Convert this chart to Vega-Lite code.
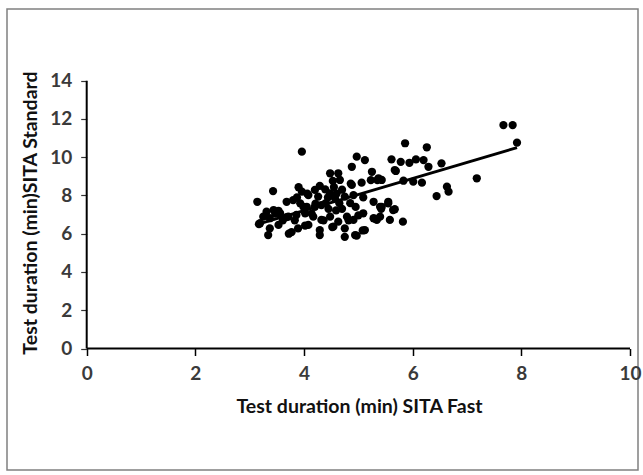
{
  "$schema": "https://vega.github.io/schema/vega-lite/v6.json",
  "autosize": "none",
  "padding": {"left": 7, "top": 9, "right": 5, "bottom": 5},
  "width": 631,
  "height": 461,
  "background": "white",
  "config": {"view": {"stroke": "#808080", "strokeWidth": 1.5}},
  "encoding": {
    "x": {"field": "fast", "type": "quantitative",
      "scale": {"domain": [-1.467, 10.147], "nice": false, "zero": false},
      "axis": {"title": "Test duration (min) SITA Fast", "values": [0, 2, 4, 6, 8, 10], "offset": -121.5,
        "domain": false, "grid": false, "tickSize": 7, "tickColor": "#000", "tickWidth": 1.5,
        "labelFont": "Lato", "labelFontSize": 19, "labelFontWeight": "bold", "labelColor": "#3a3a3a", "labelPadding": 9,
        "labelFlush": false, "labelOverlap": false,
        "titleFont": "Lato", "titleFontSize": 19.5, "titleFontWeight": "bold", "titleColor": "#111",
        "titleX": 352, "titleY": 58, "titleBaseline": "middle", "titleAlign": "center"}},
    "y": {"field": "std", "type": "quantitative",
      "scale": {"domain": [-6.351, 17.748], "nice": false, "zero": false},
      "axis": {"title": "Test duration (min)SITA Standard", "values": [0, 2, 4, 6, 8, 10, 12, 14], "offset": -79.7,
        "domain": false, "grid": false, "tickSize": 6, "tickColor": "#333", "tickWidth": 1.2,
        "labelFont": "Lato", "labelFontSize": 19, "labelFontWeight": "bold", "labelColor": "#3a3a3a", "labelPadding": 9,
        "labelFlush": false, "labelOverlap": false,
        "titleFont": "Lato", "titleFontSize": 19.5, "titleFontWeight": "bold", "titleColor": "#111",
        "titleX": -56, "titleY": 203.5, "titleAngle": -90, "titleBaseline": "middle", "titleAlign": "center"}}
  },
  "layer": [
    {
      "data": {"values": [
        {"fast": 0, "fast2": 10, "std": 0, "std2": 0},
        {"fast": 0, "fast2": 0, "std": 0, "std2": 14}
      ]},
      "mark": {"type": "rule", "color": "#000", "strokeWidth": 2},
      "encoding": {"x2": {"field": "fast2"}, "y2": {"field": "std2"}}
    },
    {
      "data": {"values": [
        {"fast": 3.14, "std": 7.67}, {"fast": 3.17, "std": 6.50}, {"fast": 3.19, "std": 6.55}, {"fast": 3.25, "std": 6.89},
        {"fast": 3.31, "std": 7.15}, {"fast": 3.34, "std": 5.93}, {"fast": 3.37, "std": 6.28}, {"fast": 3.37, "std": 6.81},
        {"fast": 3.43, "std": 8.23}, {"fast": 3.44, "std": 7.24}, {"fast": 3.47, "std": 7.05}, {"fast": 3.53, "std": 7.20},
        {"fast": 3.53, "std": 6.46}, {"fast": 3.56, "std": 7.07}, {"fast": 3.61, "std": 6.70}, {"fast": 3.68, "std": 7.67},
        {"fast": 3.68, "std": 6.87}, {"fast": 3.71, "std": 6.89}, {"fast": 3.72, "std": 6.00}, {"fast": 3.77, "std": 6.08},
        {"fast": 3.80, "std": 7.76}, {"fast": 3.83, "std": 6.70}, {"fast": 3.86, "std": 6.98}, {"fast": 3.87, "std": 7.90},
        {"fast": 3.89, "std": 6.28}, {"fast": 3.90, "std": 8.43}, {"fast": 3.93, "std": 7.59}, {"fast": 3.96, "std": 8.20},
        {"fast": 3.96, "std": 10.29}, {"fast": 3.99, "std": 7.40}, {"fast": 4.02, "std": 7.07}, {"fast": 4.02, "std": 6.43},
        {"fast": 4.05, "std": 7.41}, {"fast": 4.06, "std": 8.10}, {"fast": 4.08, "std": 8.02}, {"fast": 4.08, "std": 6.46},
        {"fast": 4.14, "std": 7.05}, {"fast": 4.17, "std": 6.89}, {"fast": 4.20, "std": 8.29}, {"fast": 4.20, "std": 7.41},
        {"fast": 4.21, "std": 7.57}, {"fast": 4.26, "std": 7.94}, {"fast": 4.29, "std": 8.50}, {"fast": 4.29, "std": 6.19},
        {"fast": 4.29, "std": 5.93}, {"fast": 4.32, "std": 7.50}, {"fast": 4.32, "std": 6.72}, {"fast": 4.36, "std": 6.70},
        {"fast": 4.39, "std": 8.32}, {"fast": 4.40, "std": 7.60}, {"fast": 4.44, "std": 7.90}, {"fast": 4.45, "std": 7.30},
        {"fast": 4.48, "std": 9.16}, {"fast": 4.48, "std": 8.11}, {"fast": 4.48, "std": 6.89}, {"fast": 4.52, "std": 6.35},
        {"fast": 4.53, "std": 8.76}, {"fast": 4.54, "std": 6.37}, {"fast": 4.55, "std": 8.44}, {"fast": 4.57, "std": 7.85},
        {"fast": 4.59, "std": 7.22}, {"fast": 4.60, "std": 8.10}, {"fast": 4.63, "std": 9.16}, {"fast": 4.63, "std": 6.63},
        {"fast": 4.65, "std": 7.60}, {"fast": 4.66, "std": 8.81}, {"fast": 4.70, "std": 7.30}, {"fast": 4.70, "std": 8.30},
        {"fast": 4.75, "std": 7.94}, {"fast": 4.75, "std": 6.28}, {"fast": 4.75, "std": 5.84}, {"fast": 4.79, "std": 6.89},
        {"fast": 4.82, "std": 6.70}, {"fast": 4.85, "std": 7.60}, {"fast": 4.86, "std": 8.62}, {"fast": 4.88, "std": 9.50},
        {"fast": 4.88, "std": 8.55}, {"fast": 4.91, "std": 8.02}, {"fast": 4.91, "std": 6.72}, {"fast": 4.94, "std": 5.93},
        {"fast": 4.95, "std": 7.40}, {"fast": 4.97, "std": 10.03}, {"fast": 4.97, "std": 5.90}, {"fast": 5.00, "std": 6.96},
        {"fast": 5.06, "std": 8.67}, {"fast": 5.09, "std": 7.90}, {"fast": 5.09, "std": 7.07}, {"fast": 5.08, "std": 6.17},
        {"fast": 5.12, "std": 9.85}, {"fast": 5.12, "std": 6.19}, {"fast": 5.23, "std": 8.80}, {"fast": 5.25, "std": 9.24},
        {"fast": 5.28, "std": 7.67}, {"fast": 5.28, "std": 6.81}, {"fast": 5.31, "std": 6.78}, {"fast": 5.34, "std": 6.72},
        {"fast": 5.35, "std": 8.80}, {"fast": 5.37, "std": 8.90}, {"fast": 5.40, "std": 7.41}, {"fast": 5.40, "std": 6.89},
        {"fast": 5.42, "std": 7.30}, {"fast": 5.43, "std": 8.81}, {"fast": 5.43, "std": 7.41}, {"fast": 5.55, "std": 7.67},
        {"fast": 5.55, "std": 7.59}, {"fast": 5.58, "std": 6.72}, {"fast": 5.61, "std": 9.89}, {"fast": 5.64, "std": 7.24},
        {"fast": 5.67, "std": 7.28}, {"fast": 5.67, "std": 9.33}, {"fast": 5.69, "std": 9.28}, {"fast": 5.78, "std": 9.76},
        {"fast": 5.82, "std": 6.63}, {"fast": 5.83, "std": 8.77}, {"fast": 5.86, "std": 10.73}, {"fast": 5.94, "std": 9.71},
        {"fast": 6.01, "std": 8.72}, {"fast": 6.06, "std": 9.89}, {"fast": 6.17, "std": 8.67}, {"fast": 6.20, "std": 9.85},
        {"fast": 6.26, "std": 10.52}, {"fast": 6.29, "std": 9.50}, {"fast": 6.44, "std": 7.97}, {"fast": 6.53, "std": 9.68},
        {"fast": 6.63, "std": 8.46}, {"fast": 6.66, "std": 8.20}, {"fast": 7.18, "std": 8.90}, {"fast": 7.67, "std": 11.68},
        {"fast": 7.84, "std": 11.68}, {"fast": 7.92, "std": 10.76}
      ]},
      "mark": {"type": "circle", "size": 68, "color": "#000", "opacity": 1}
    },
    {
      "data": {"values": [
        {"fast": 3.14, "std": 6.49},
        {"fast": 7.92, "std": 10.50}
      ]},
      "mark": {"type": "line", "color": "#000", "strokeWidth": 3}
    }
  ]
}
